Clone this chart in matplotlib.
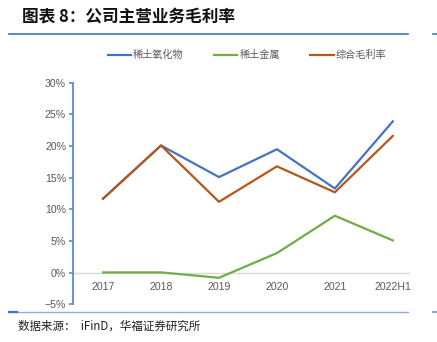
import matplotlib.pyplot as plt
from matplotlib.lines import Line2D
from matplotlib.ticker import PercentFormatter

plt.rcParams['font.family'] = ['Noto Sans CJK SC', 'DejaVu Sans']

years = ["2017", "2018", "2019", "2020", "2021", "2022H1"]
oxide = [11.7, 20.1, 15.1, 19.5, 13.3, 23.9]      # 稀土氧化物
metal = [0.05, 0.05, -0.8, 3.1, 9.0, 5.1]         # 稀土金属
overall = [11.7, 20.1, 11.2, 16.8, 12.7, 21.6]    # 综合毛利率

fig = plt.figure(figsize=(4.37, 3.42), dpi=100)
ax = fig.add_axes([0.167, 0.110, 0.769, 0.648])

x = range(len(years))
ax.plot(x, oxide, color="#4472C4", lw=1.6, label="稀土氧化物")
ax.plot(x, metal, color="#70AD47", lw=1.6, label="稀土金属")
ax.plot(x, overall, color="#B5561C", lw=1.6, label="综合毛利率")

ax.set_xlim(-0.52, 5.28)
ax.set_ylim(-5, 30)
ax.set_yticks(range(-5, 31, 5))
ax.yaxis.set_major_formatter(PercentFormatter(decimals=0))

for s in ["top", "right"]:
    ax.spines[s].set_visible(False)
ax.spines["left"].set_color("#5B8BD6")
ax.spines["left"].set_linewidth(1.3)
ax.spines["bottom"].set_position(("data", 0))
ax.spines["bottom"].set_color("#D9D9D9")
ax.spines["bottom"].set_linewidth(1.0)
ax.spines["bottom"].set_zorder(0)

ax.set_xticks(list(x))
ax.set_xticklabels(years)
ax.tick_params(axis="x", length=0, pad=6.5, labelsize=7.6, labelcolor="#595959")
ax.tick_params(axis="y", length=3, width=1.2, color="#5B8BD6", pad=2,
               labelsize=7.6, labelcolor="#595959")
for lab in ax.get_xticklabels() + ax.get_yticklabels():
    lab.set_family(['Liberation Sans Narrow', 'Liberation Sans'])

ax.legend(loc="center", bbox_to_anchor=(0.565, 0.839), bbox_transform=fig.transFigure,
          ncol=3, frameon=False, fontsize=7.3, handlelength=2.3, handletextpad=0.2,
          columnspacing=3.0, labelcolor="#595959")

fig.text(0.05, 0.951, "图表 8：公司主营业务毛利率", fontsize=12, fontweight="semibold",
         style="italic", va="center", ha="left", color="#111111")
fig.text(0.041, 0.045, "数据来源：  iFinD，华福证券研究所", fontsize=8.3,
         va="center", ha="left", color="#222222")

# decorative rules
fig.add_artist(Line2D([0.021, 0.934], [0.901, 0.901], color="#4472C4", lw=1.2,
                      transform=fig.transFigure))
fig.add_artist(Line2D([0.991, 1.0], [0.901, 0.901], color="#4472C4", lw=1.2,
                      transform=fig.transFigure))
fig.add_artist(Line2D([0.021, 0.934], [0.088, 0.088], color="#8FAADC", lw=1.0,
                      transform=fig.transFigure))
fig.add_artist(Line2D([0.021, 0.039], [0.088, 0.088], color="#4472C4", lw=1.6,
                      transform=fig.transFigure))
fig.add_artist(Line2D([0.991, 1.0], [0.088, 0.088], color="#8FAADC", lw=1.6,
                      transform=fig.transFigure))

fig.savefig("out.png", dpi=100)
